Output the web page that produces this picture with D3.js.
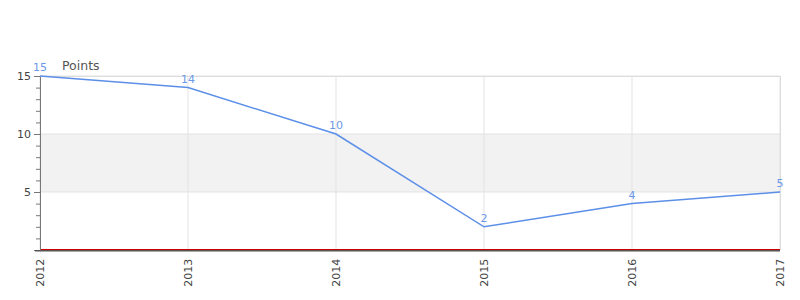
<!DOCTYPE html>
<html>
<head>
<meta charset="utf-8">
<script src="https://cdn.jsdelivr.net/npm/d3@7"></script>
<style>
  body { margin: 0; background: #fff; }
  text { font-family: "DejaVu Sans", sans-serif; }
</style>
</head>
<body>
<div id="chart"></div>
<script>
const years = ["2012", "2013", "2014", "2015", "2016", "2017"]
const points = [15, 14, 10, 2, 4, 5]
const yTicks = [5, 10, 15]
const band = [5, 10]

var margin = {top: 76, right: 20, bottom: 50, left: 40},
    width = 800 - margin.left - margin.right,
    height = 300 - margin.top - margin.bottom;

var svg = d3.select("#chart")
  .append("svg")
    .attr("width", 800)
    .attr("height", 300)
  .append("g")
    .attr("transform", "translate(" + margin.left + "," + margin.top + ")");

var x = d3.scalePoint()
  .domain(years)
  .range([0, width]);

var y = d3.scaleLinear()
  .domain([0, 15])
  .range([height, 0]);

// shaded band
svg.append("rect")
  .attr("x", 0)
  .attr("width", width)
  .attr("y", y(band[1]))
  .attr("height", y(band[0]) - y(band[1]))
  .style("fill", "#f2f2f2");

// grid
svg.append("g")
  .selectAll("line")
  .data(yTicks)
  .enter()
  .append("line")
    .attr("x1", 0).attr("x2", width)
    .attr("y1", d => y(d)).attr("y2", d => y(d))
    .style("stroke", "#e3e3e3");

svg.append("g")
  .selectAll("line")
  .data(years)
  .enter()
  .append("line")
    .attr("x1", d => x(d)).attr("x2", d => x(d))
    .attr("y1", 0).attr("y2", height)
    .style("stroke", "#e3e3e3");

// zero line
svg.append("line")
  .attr("x1", 0).attr("x2", width)
  .attr("y1", height - 0.5).attr("y2", height - 0.5)
  .style("stroke", "#cc0000")
  .style("stroke-width", 1);

// y axis with minor ticks
var yAxis = svg.append("g")
  .call(d3.axisLeft(y).tickValues(d3.range(0, 16)).tickSize(4).tickFormat(""));
yAxis.select(".domain").remove();
yAxis.selectAll("line").style("stroke", "#777");

var yMajor = svg.append("g")
  .call(d3.axisLeft(y).tickValues(yTicks).tickSize(6).tickPadding(3));
yMajor.select(".domain").style("stroke", "#777");
yMajor.selectAll("line").style("stroke", "#777");
yMajor.selectAll("text")
  .style("font-size", "11px")
  .style("fill", "#444");

// x axis
var xAxis = svg.append("g")
  .attr("transform", "translate(0," + (height + 0.75) + ")")
  .call(d3.axisBottom(x).tickSize(0).tickPadding(8));
xAxis.select(".domain").style("stroke", "#555").style("stroke-width", 1.5)
  .attr("d", "M-5,0H" + width);
xAxis.selectAll("text")
  .attr("transform", "rotate(-90)")
  .attr("text-anchor", "end")
  .attr("x", -8)
  .attr("y", 0)
  .attr("dy", "0.35em")
  .style("font-size", "11px")
  .style("fill", "#444");

// top & right border
svg.append("path")
  .attr("d", "M0,0.5H" + (width + 0.5) + "V" + height)
  .style("fill", "none")
  .style("stroke", "#ddd");

svg.append("text")
  .attr("x", 22)
  .attr("y", -6)
  .style("font-size", "12.5px")
  .style("fill", "#555")
  .text("Points");

var line = d3.line()
  .x((d, i) => x(years[i]))
  .y(d => y(d));

svg.append("path")
  .datum(points)
  .attr("d", line)
  .style("fill", "none")
  .style("stroke", "#5b8fe8")
  .style("stroke-width", 1.5);

svg.append("g")
  .selectAll("text")
  .data(points)
  .enter()
  .append("text")
    .attr("x", (d, i) => x(years[i]))
    .attr("y", d => y(d) - 5)
    .attr("text-anchor", "middle")
    .style("font-size", "11px")
    .style("fill", "#6c98e8")
    .text(d => d);
</script>
</body>
</html>
